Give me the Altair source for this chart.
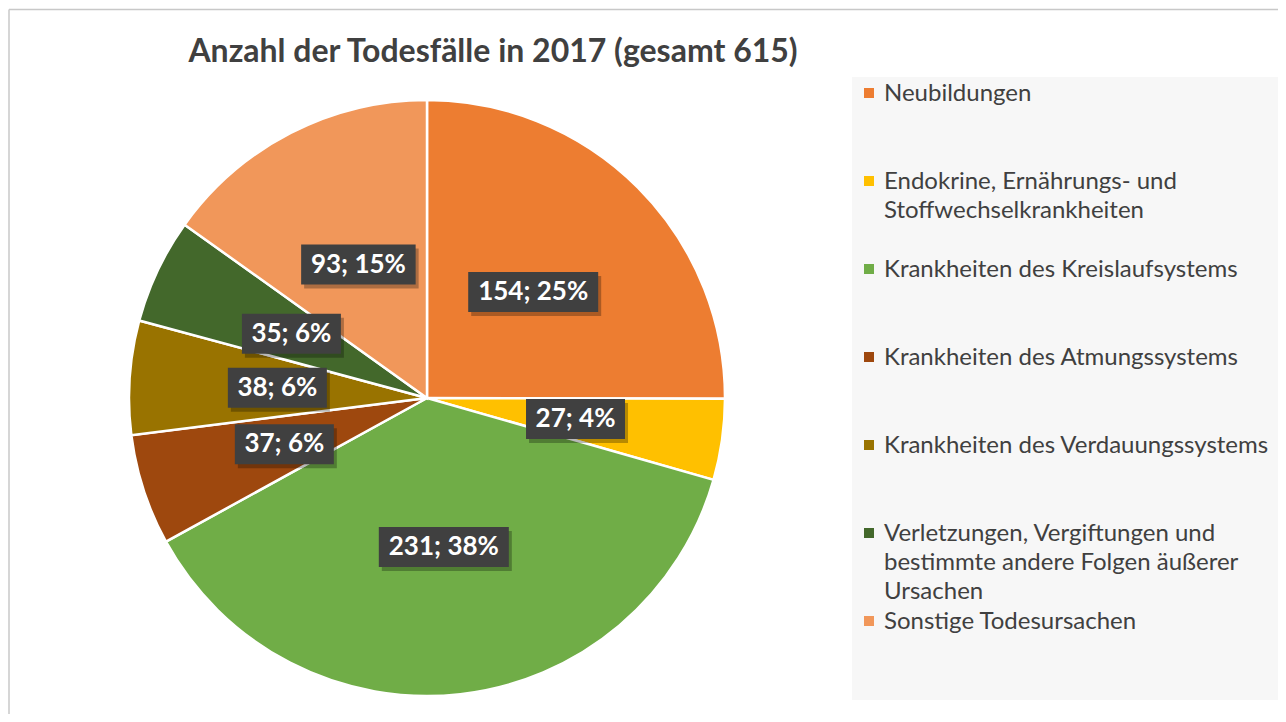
import altair as alt
import pandas as pd

TITLE = "Anzahl der Todesfälle in 2017 (gesamt 615)"
CATEGORIES = [
    "Neubildungen",
    "Endokrine, Ernährungs- und Stoffwechselkrankheiten",
    "Krankheiten des Kreislaufsystems",
    "Krankheiten des Atmungssystems",
    "Krankheiten des Verdauungssystems",
    "Verletzungen, Vergiftungen und bestimmte andere Folgen äußerer Ursachen",
    "Sonstige Todesursachen",
]
LEGEND_TEXT = [
    "Neubildungen",
    "Endokrine, Ernährungs- und\nStoffwechselkrankheiten",
    "Krankheiten des Kreislaufsystems",
    "Krankheiten des Atmungssystems",
    "Krankheiten des Verdauungssystems",
    "Verletzungen, Vergiftungen und\nbestimmte andere Folgen äußerer\nUrsachen",
    "Sonstige Todesursachen",
]
VALUES = [154, 27, 231, 37, 38, 35, 93]
COLORS = ["#ED7D31", "#FFC000", "#70AD47", "#9E480E", "#997300", "#43682B", "#F1975A"]

W, H = 1270, 706
CX, CY, R = 419, 390, 298
LABEL_R = 150
FONT = "Lato"
TXT = "#404040"

df = pd.DataFrame({
    "idx": list(range(len(CATEGORIES))),
    "cat": CATEGORIES,
    "legend": LEGEND_TEXT,
    "value": VALUES,
})

base = (
    alt.Chart(df)
    .transform_joinaggregate(total="sum(value)")
    .transform_window(cum="sum(value)", sort=[alt.SortField("idx")])
    .transform_calculate(
        mid="(datum.cum - datum.value/2) / datum.total * 2 * PI",
    )
    .transform_calculate(
        lx=f"{CX} + {LABEL_R} * sin(datum.mid)",
        ly=f"{CY} - {LABEL_R} * cos(datum.mid)",
        label="datum.value + '; ' + round(datum.value / datum.total * 100) + '%'",
    )
    .transform_calculate(hw="length(datum.label) * 7.75 + 3")
    .transform_calculate(
        bx="datum.lx - datum.hw",
        bx2="datum.lx + datum.hw",
        by="datum.ly - 20",
        by2="datum.ly + 20",
        gy="93 + datum.idx * 88",
    )
)

color = alt.Color("cat:N", scale=alt.Scale(domain=CATEGORIES, range=COLORS), legend=None)

one = alt.Chart(pd.DataFrame({"t": [TITLE]}))

frame_top = one.mark_rule(color="#c8c8c8", strokeWidth=1.5).encode(
    x=alt.value(1), x2=alt.value(W), y=alt.value(1.5)
)
frame_left = one.mark_rule(color="#c8c8c8", strokeWidth=1.5).encode(
    x=alt.value(1), y=alt.value(1.5), y2=alt.value(H)
)
panel = one.mark_rect(color="#F7F7F7").encode(
    x=alt.value(844), x2=alt.value(W), y=alt.value(69), y2=alt.value(692)
)

pie = alt.Chart(df).mark_arc(outerRadius=R, stroke="white", strokeWidth=2.5).encode(
    theta=alt.Theta("value:Q", stack=True),
    color=color,
    order=alt.Order("idx:Q"),
    x=alt.value(CX),
    y=alt.value(CY),
)

shadow = base.mark_rect(color="black", opacity=0.28, xOffset=3, x2Offset=3, yOffset=4, y2Offset=4).encode(
    x=alt.X("bx:Q", scale=None), x2="bx2:Q",
    y=alt.Y("by:Q", scale=None), y2="by2:Q",
)
box = base.mark_rect(color="#404040").encode(
    x=alt.X("bx:Q", scale=None), x2="bx2:Q",
    y=alt.Y("by:Q", scale=None), y2="by2:Q",
)
labels = base.mark_text(font=FONT, fontSize=26, fontWeight="bold", color="white",
                        align="center", baseline="middle").encode(
    x=alt.X("lx:Q", scale=None), y=alt.Y("ly:Q", scale=None), text="label:N"
)

title = one.mark_text(font=FONT, fontSize=32, fontWeight="bold", color=TXT,
                      align="center", baseline="alphabetic").encode(
    text="t:N", x=alt.value(485), y=alt.value(54)
)

leg_sq = base.mark_square(size=100, opacity=1, yOffset=-8).encode(
    x=alt.value(861), y=alt.Y("gy:Q", scale=None), color=color
)
leg_txt = base.mark_text(font=FONT, fontSize=24, color=TXT, align="left",
                         baseline="alphabetic", lineBreak="\n", lineHeight=29).encode(
    x=alt.value(876), y=alt.Y("gy:Q", scale=None), text="legend:N"
)

chart = (
    alt.layer(frame_top, frame_left, panel, pie, shadow, box, labels, title, leg_sq, leg_txt)
    .properties(width=W, height=H, padding=0, autosize=alt.AutoSizeParams(type="none"),
                background="white")
    .configure_view(stroke=None)
)

chart.save("out.html", embed_options={"renderer": "svg", "actions": False})
